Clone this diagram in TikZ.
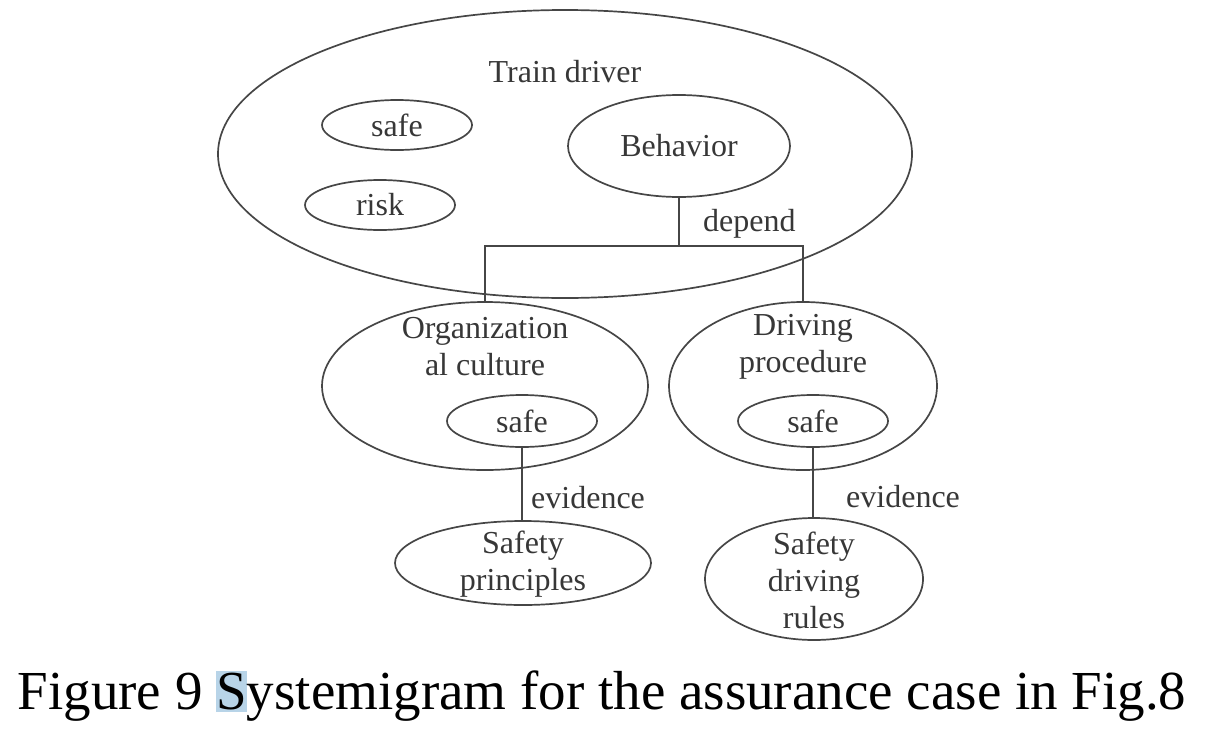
\documentclass[tikz,border=0pt]{standalone}
\usepackage{fontspec}
\setmainfont{Liberation Serif}
\usetikzlibrary{shapes.geometric}
\definecolor{linec}{RGB}{70,70,70}
\definecolor{txtc}{RGB}{55,55,55}
\definecolor{hl}{RGB}{184,212,232}
\begin{document}
\begin{tikzpicture}[x=1pt,y=-1pt,
  ell/.style={ellipse, draw=linec, line width=1.7pt, inner sep=0pt},
  lbl/.style={font=\fontsize{32}{37}\selectfont, text=txtc, align=center, inner sep=0pt},
  conn/.style={draw=linec, line width=1.7pt}]
\useasboundingbox (0,0) rectangle (1215,739);
% top-level
\node[ell, minimum width=694pt, minimum height=288pt] (td) at (565,154) {};
\node[lbl] (tdl) at (565,72) {Train driver};
\node[ell, lbl, minimum width=150pt, minimum height=50pt] (safe1) at (397,125) {safe};
\node[ell, lbl, minimum width=150pt, minimum height=50pt] (risk) at (380,205) {risk};
\node[ell, lbl, minimum width=222pt, minimum height=102pt] (beh) at (679,146) {Behavior};
% middle
\node[ell, minimum width=326pt, minimum height=168pt] (org) at (485,386) {};
\node[lbl] (orgl) at (485,347) {Organization\\al culture};
\node[ell, lbl, minimum width=150pt, minimum height=52pt] (safe2) at (522,421) {safe};
\node[ell, minimum width=268pt, minimum height=168pt] (dp) at (803,386) {};
\node[lbl] (dpl) at (803,347) {Driving\\procedure};
\node[ell, lbl, minimum width=150pt, minimum height=52pt] (safe3) at (813,421) {safe};
% bottom
\node[ell, minimum width=256pt, minimum height=84pt] (sp) at (523,563) {};
\node[lbl] (spl) at (523,564) {Safety\\principles};
\node[ell, minimum width=218pt, minimum height=122pt] (sdr) at (814,579) {};
\node[lbl] (sdrl) at (814,580) {Safety\\driving\\rules};
% connectors
\coordinate (j) at (679,246);
\draw[conn] (beh.south) -- (j);
\draw[conn] (org.north) |- (j) -| (dp.north);
\node[lbl, anchor=west] (dep) at (703,224) {depend};
\draw[conn] (safe2.south) -- (safe2.south |- sp.north);
\node[lbl, anchor=west] (ev1) at (531,498) {evidence};
\draw[conn] (safe3.south) -- (safe3.south |- sdr.north);
\node[lbl, anchor=west] (ev2) at (846,497) {evidence};
% caption
\node[inner sep=0pt, anchor=base] (cap) at (602,709) {\fontsize{55}{60}\selectfont Figure 9 {\setlength\fboxsep{0pt}\colorbox{hl}{\rule[-0.05em]{0pt}{0.74em}S}}ystemigram for the assurance case in Fig.8};
\end{tikzpicture}
\end{document}
